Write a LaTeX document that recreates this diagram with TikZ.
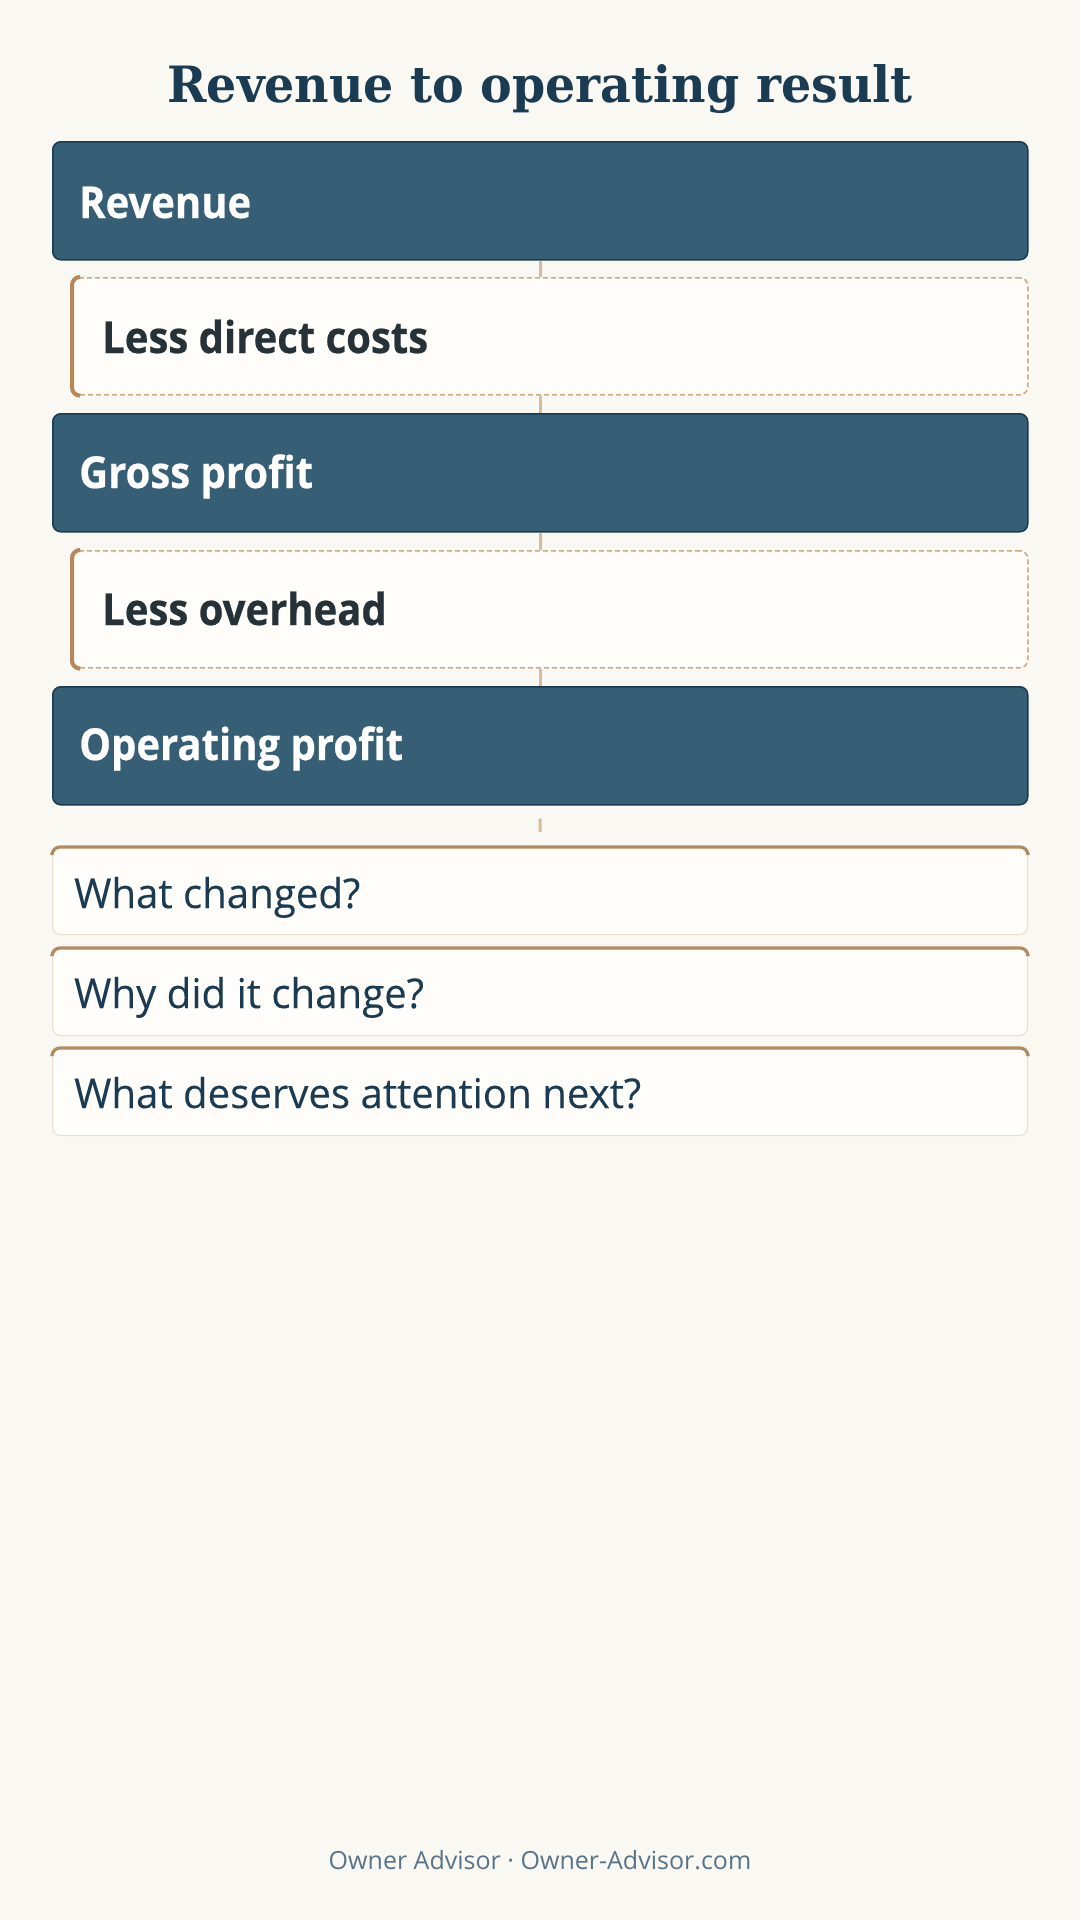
\documentclass[tikz,border=0pt]{standalone}
\usepackage{fontspec}
\setmainfont{Open Sans}
\newfontfamily\titlefont[FakeStretch=0.95]{DejaVu Serif}
\newfontfamily\boxfont[FakeStretch=0.91,FakeBold=0.5]{Open Sans}
\newfontfamily\qfont[FakeStretch=0.98,FakeBold=0.15]{Open Sans}
\definecolor{bg}{HTML}{F9F8F3}
\definecolor{darkfill}{HTML}{365E74}
\definecolor{darkline}{HTML}{1B3A50}
\definecolor{lightfill}{HTML}{FEFDF9}
\definecolor{dashline}{HTML}{CBAA86}
\definecolor{accent}{HTML}{B9865A}
\definecolor{conn}{HTML}{D6BB9D}
\definecolor{qline}{HTML}{EADFCF}
\definecolor{qaccent}{HTML}{B38A62}
\definecolor{navy}{HTML}{1B3B52}
\definecolor{ink}{HTML}{263238}
\definecolor{foot}{HTML}{587489}
\tikzset{
  darkbox/.style={draw=darkline, fill=darkfill, line width=1.5pt, rounded corners=8pt,
    minimum width=975pt, minimum height=118pt, anchor=north west, inner sep=0pt},
  lessbox/.style={draw=dashline, fill=lightfill, line width=1.6pt, dash pattern=on 5pt off 3pt,
    rounded corners=8pt, minimum width=955pt, minimum height=117pt, anchor=north west, inner sep=0pt},
  qbox/.style={draw=qline, fill=lightfill, line width=1pt, rounded corners=8pt,
    minimum width=975pt, minimum height=87pt, anchor=north west, inner sep=0pt},
  lessaccent/.style={draw=accent, line width=4pt, rounded corners=8pt},
  topaccent/.style={draw=qaccent, line width=3.2pt, rounded corners=8pt},
  connline/.style={draw=conn, line width=3pt},
  darklbl/.style={anchor=base west, inner sep=0pt, text=white, font=\boxfont\bfseries\fontsize{44}{50}\selectfont},
  lesslbl/.style={anchor=base west, inner sep=0pt, text=ink, font=\boxfont\bfseries\fontsize{44}{50}\selectfont},
  qlbl/.style={anchor=base west, inner sep=0pt, text=navy, font=\qfont\fontsize{41}{46}\selectfont},
  titlelbl/.style={anchor=base, inner sep=0pt, text=navy, font=\titlefont\bfseries\fontsize{50}{56}\selectfont},
  footlbl/.style={anchor=base, inner sep=0pt, text=foot, font=\fontsize{25}{30}\selectfont}
}
\begin{document}
\begin{tikzpicture}[x=1pt,y=-1pt]
\fill[bg] (0,0) rectangle (1080,1920);
\useasboundingbox (0,0) rectangle (1080,1920);

\node[titlelbl] (title) at (540,102) {Revenue to operating result};

\node[darkbox] (rev) at (52,141) {};
\node[lessbox] (ldc) at (72,277) {};
\node[darkbox] (gp) at (52,413) {};
\node[lessbox] (lo) at (72,550) {};
\node[darkbox] (op) at (52,686) {};

\draw[lessaccent] ([xshift=7pt]ldc.north west) -- (ldc.north west) -- (ldc.south west) -- ([xshift=7pt]ldc.south west);
\draw[lessaccent] ([xshift=7pt]lo.north west) -- (lo.north west) -- (lo.south west) -- ([xshift=7pt]lo.south west);

\draw[connline] (rev.south) -- (rev.south |- ldc.north);
\draw[connline] (rev.south |- ldc.south) -- (gp.north);
\draw[connline] (gp.south) -- (gp.south |- lo.north);
\draw[connline] (gp.south |- lo.south) -- (op.north);

\node[darklbl] (revL) at (79,218) {Revenue};
\node[lesslbl] (ldcL) at (102,353) {Less direct costs};
\node[darklbl] (gpL) at (79,488) {Gross profit};
\node[lesslbl] (loL) at (102,625) {Less overhead};
\node[darklbl] (opL) at (79,760) {Operating profit};

\node[qbox] (q1) at (52,847) {};
\node[qbox] (q2) at (52,948) {};
\node[qbox] (q3) at (52,1048) {};
\foreach \q in {q1,q2,q3}{
  \draw[topaccent] ([yshift=-6pt]\q.north west) -- (\q.north west) -- (\q.north east) -- ([yshift=-6pt]\q.north east);
}
\coordinate (c1) at ([yshift=-13pt]op.south);
\coordinate (c2) at ([yshift=15pt]q1.north);
\draw[connline] (c1) -- (c2);

\node[qlbl] (q1L) at (74,908) {What changed?};
\node[qlbl] (q2L) at (74,1008) {Why did it change?};
\node[qlbl] (q3L) at (74,1108) {What deserves attention next?};

\node[footlbl] (footer) at (540,1869) {Owner Advisor · Owner-Advisor.com};
\end{tikzpicture}
\end{document}
